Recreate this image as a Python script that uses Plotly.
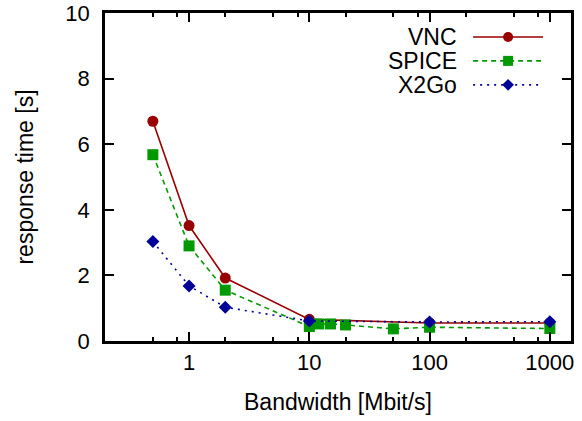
import plotly.graph_objects as go

# Response time measurements per remote desktop protocol
bw_vnc = [0.5, 1, 2, 10, 100, 1000]
rt_vnc = [6.7, 3.52, 1.92, 0.66, 0.55, 0.55]

bw_spice = [0.5, 1, 2, 10, 12, 15, 20, 50, 100, 1000]
rt_spice = [5.68, 2.9, 1.55, 0.44, 0.52, 0.52, 0.49, 0.37, 0.42, 0.38]

bw_x2go = [0.5, 1, 2, 10, 100, 1000]
rt_x2go = [3.03, 1.68, 1.03, 0.61, 0.58, 0.59]

x_ticks = [1, 10, 100, 1000]
x_minor = [0.5, 0.8, 2, 5, 8, 20, 50, 80, 200, 500, 800]
y_ticks = [0, 2, 4, 6, 8, 10]

names = ["VNC", "SPICE", "X2Go"]
colors = ["#990000", "#009900", "#000099"]
symbols = ["circle", "square", "diamond"]
dashes = ["solid", "5px,4px", "2px,5px"]
msizes = [11, 11, 10]

FONT = "Liberation Sans, Arial, Helvetica, sans-serif"
TICK_SIZE = 22
TEXT_SIZE = 23

fig = go.Figure()
series = [(bw_vnc, rt_vnc), (bw_spice, rt_spice), (bw_x2go, rt_x2go)]
for (xs, ys), name, c, s, d, ms in zip(series, names, colors, symbols, dashes, msizes):
    fig.add_trace(go.Scatter(
        x=xs, y=ys, name=name, mode="lines+markers",
        line=dict(color=c, width=1.6, dash=d),
        marker=dict(color=c, symbol=s, size=ms, line=dict(width=0)),
        showlegend=False,
    ))

# Key in the upper right: label, then a line sample with its marker
key_y = [0.927, 0.854, 0.781]
for name, c, s, d, ms, ky in zip(names, colors, symbols, dashes, msizes, key_y):
    fig.add_trace(go.Scatter(
        x=[0.790, 0.940], y=[ky, ky], mode="lines",
        line=dict(color=c, width=1.6, dash=d),
        xaxis="x2", yaxis="y2", showlegend=False, hoverinfo="skip",
    ))
    fig.add_trace(go.Scatter(
        x=[0.865], y=[ky], mode="markers",
        marker=dict(color=c, symbol=s, size=ms - 1, line=dict(width=0)),
        xaxis="x2", yaxis="y2", showlegend=False, hoverinfo="skip",
    ))
    fig.add_annotation(
        x=0.759, y=ky, xref="paper", yref="paper", text=name,
        showarrow=False, xanchor="right", yanchor="middle",
        font=dict(family=FONT, size=TEXT_SIZE, color="black"),
    )

axis_common = dict(
    showline=True, linecolor="black", linewidth=2.5, mirror="ticks",
    ticks="inside", ticklen=9, tickwidth=2, tickcolor="black",
    showgrid=False, zeroline=False, automargin=False,
    tickfont=dict(family=FONT, size=TICK_SIZE, color="black"),
)

fig.update_layout(
    width=582, height=421,
    margin=dict(l=105, r=11, t=13, b=80),
    paper_bgcolor="white", plot_bgcolor="white",
    font=dict(family=FONT, size=TEXT_SIZE, color="black"),
    xaxis=dict(
        type="log", range=[-0.699, 3.176],
        tickmode="array", tickvals=x_ticks, ticktext=[str(v) for v in x_ticks],
        minor=dict(tickmode="array", tickvals=x_minor, ticks="inside",
                   ticklen=4, tickwidth=2, tickcolor="black", showgrid=False),
        title=dict(text="Bandwidth [Mbit/s]", font=dict(family=FONT, size=TEXT_SIZE), standoff=20),
        **axis_common,
    ),
    yaxis=dict(
        range=[0, 10], tickmode="array", tickvals=y_ticks, ticklabelstandoff=8,
        title=dict(text="response time [s]", font=dict(family=FONT, size=TEXT_SIZE), standoff=26),
        **axis_common,
    ),
    xaxis2=dict(overlaying="x", range=[0, 1], visible=False, fixedrange=True),
    yaxis2=dict(overlaying="y", range=[0, 1], visible=False, fixedrange=True),
)

fig.write_html("out.html")
